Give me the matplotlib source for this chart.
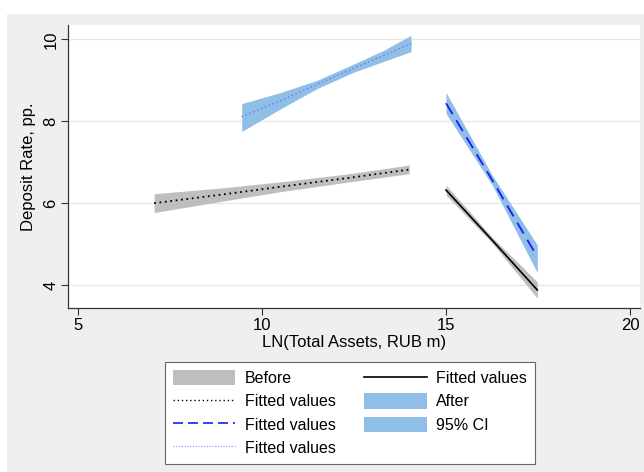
import numpy as np
import matplotlib.pyplot as plt
from matplotlib.patches import Patch, Rectangle
from matplotlib.lines import Line2D

plt.rcParams['font.family'] = ['Liberation Sans', 'DejaVu Sans']

# before: small banks (left) and large banks (right)
before_x_left = [7.07, 9.0, 10.5, 12.3, 14.0]
before_fit_left = [6.0, 6.22, 6.4, 6.61, 6.82]
before_lo_left = [5.77, 6.06, 6.28, 6.51, 6.72]
before_hi_left = [6.23, 6.38, 6.52, 6.71, 6.93]

before_x_right = [15.0, 16.25, 17.48]
before_fit_right = [6.32, 5.1, 3.88]
before_lo_right = [6.2, 5.03, 3.68]
before_hi_right = [6.44, 5.17, 4.08]

# after
after_x_left = [9.45, 10.5, 11.5, 12.5, 13.3, 14.05]
after_fit_left = [8.11, 8.5, 8.9, 9.3, 9.6, 9.9]
after_lo_left = [7.75, 8.3, 8.8, 9.2, 9.46, 9.7]
after_hi_left = [8.43, 8.7, 9.0, 9.4, 9.73, 10.1]

after_x_right = [15.0, 16.25, 17.48]
after_fit_right = [8.44, 6.57, 4.69]
after_lo_right = [8.19, 6.45, 4.3]
after_hi_right = [8.7, 6.69, 4.98]

grey_band = '#bebebe'
blue_band = '#8fbfe6'

fig = plt.figure(figsize=(6.44, 4.72), dpi=100)
fig.patch.set_facecolor('white')
fig.patches.append(Rectangle((7 / 644, 0), 1, 1 - 14 / 472, transform=fig.transFigure,
                             facecolor='#efefef', edgecolor='none', zorder=-10))

ax = fig.add_axes([68 / 644, 1 - 308 / 472, 572 / 644, 283 / 472])
ax.set_facecolor('white')

ax.fill_between(before_x_left, before_lo_left, before_hi_left, color=grey_band, lw=0)
ax.fill_between(before_x_right, before_lo_right, before_hi_right, color=grey_band, lw=0)
ax.fill_between(after_x_left, after_lo_left, after_hi_left, color=blue_band, lw=0)
ax.fill_between(after_x_right, after_lo_right, after_hi_right, color=blue_band, lw=0)

ax.plot(before_x_left, before_fit_left, color='black', ls=(0, (1, 2)), lw=1.3)
ax.plot(before_x_right, before_fit_right, color='black', lw=1.2)
ax.plot(after_x_left, after_fit_left, color='#7070ff', ls=(0, (1, 2)), lw=1.0)
ax.plot(after_x_right, after_fit_right, color='#1a1aff', ls=(0, (7, 4)), lw=1.3)

ax.set_xlim(4.73, 20.27)
ax.set_ylim(3.44, 10.35)
ax.set_xticks([5, 10, 15, 20])
ax.set_yticks([4, 6, 8, 10])
ax.grid(axis='y', color='#e6e6e6', lw=0.9)
ax.set_axisbelow(True)
for s in ['top', 'right']:
    ax.spines[s].set_visible(False)
for s in ['left', 'bottom']:
    ax.spines[s].set_color('#333333')
    ax.spines[s].set_linewidth(0.9)
ax.tick_params(labelsize=12, length=5, width=0.8, color='#333333', pad=2)
plt.setp(ax.get_yticklabels(), rotation=90, va='center')
ax.set_xlabel('LN(Total Assets, RUB m)', fontsize=12, labelpad=2)
ax.set_ylabel('Deposit Rate, pp.', fontsize=12, labelpad=5)

handles = [
    Patch(facecolor=grey_band, edgecolor='none'),
    Line2D([], [], color='black', ls=(0, (1, 2)), lw=1.0),
    Line2D([], [], color='#1a1aff', ls=(0, (6, 3)), lw=1.2),
    Line2D([], [], color='#9090ff', ls=(0, (1, 1.5)), lw=0.8),
    Line2D([], [], color='black', lw=1.2),
    Patch(facecolor=blue_band, edgecolor='none'),
    Patch(facecolor=blue_band, edgecolor='none'),
]
labels = ['Before', 'Fitted values', 'Fitted values', 'Fitted values',
          'Fitted values', 'After', '95% CI']
leg = fig.legend(handles, labels, ncol=2, loc='upper left',
                 bbox_to_anchor=(165 / 644, 1 - 362 / 472),
                 fontsize=11.5, handlelength=3.9, handleheight=1.1,
                 handletextpad=0.6, columnspacing=1.8, labelspacing=0.45,
                 borderpad=0.5, borderaxespad=0, fancybox=False, framealpha=1)
leg.get_frame().set_edgecolor('#666666')
leg.get_frame().set_linewidth(0.8)

fig.savefig('out.png', dpi=100)
